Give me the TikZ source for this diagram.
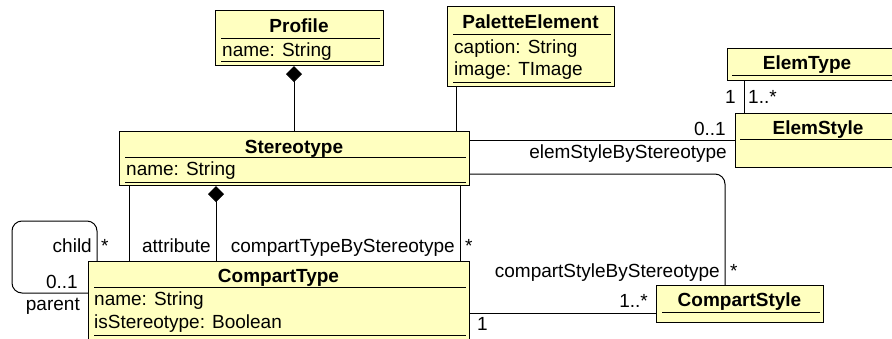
\documentclass[tikz,border=0pt]{standalone}
\usepackage{fontspec}
\setmainfont{Liberation Sans}
\usetikzlibrary{arrows.meta}
\newcommand\umlfs{\fontsize{19}{22}\selectfont}
\definecolor{clsfill}{RGB}{255,255,192}
\tikzset{
  x=1pt,y=-1pt,
  cls/.style={draw, fill=clsfill, line width=1.2pt, inner sep=0pt, anchor=north west},
  sep/.style={line width=1pt},
  conn/.style={line width=1pt},
  txt/.style={inner sep=0pt, font=\umlfs},
  ttl/.style={inner sep=0pt, font=\umlfs\bfseries, anchor=base},
  comp/.style={conn, {Diamond[length=16pt,width=16pt]}-},
}
\begin{document}
\begin{tikzpicture}
\useasboundingbox (0,0) rectangle (892,338);
\clip (0,0) rectangle (892,338);
\fill[white] (0,0) rectangle (892,338);
% boxes
\node[cls, minimum width=168pt, minimum height=55pt] (profile) at (215,10) {};
\node[cls, minimum width=167pt, minimum height=80pt] (palette) at (447,6) {};
\node[cls, minimum width=175pt, minimum height=32pt] (elemtype) at (727,48) {};
\node[cls, minimum width=175pt, minimum height=54pt] (elemstyle) at (735,113) {};
\node[cls, minimum width=350pt, minimum height=54pt] (stereo) at (119,131) {};
\node[cls, minimum width=381pt, minimum height=90pt] (ctype) at (88,261) {};
\node[cls, minimum width=167pt, minimum height=37pt] (cstyle) at (656,285) {};
% separators
\draw[sep] (221,38) -- (380,38) (221,61) -- (380,61);
\draw[sep] (453,34) -- (611,34) (453,82) -- (611,82);
\draw[sep] (732,75) -- (900,75);
\draw[sep] (740,139) -- (900,139);
\draw[sep] (125,157) -- (466,157) (125,182) -- (466,182);
\draw[sep] (94,287) -- (466,287) (94,335) -- (466,335);
\draw[sep] (662,312) -- (820,312);
% texts
\node[ttl] (tprofile) at (299,32) {Profile};
\node[txt, anchor=base west] (aprofile) at (222,56) {name: String};
\node[ttl] (tpalette) at (530.5,28) {PaletteElement};
\node[txt, anchor=base west] (apal1) at (454,53) {caption: String};
\node[txt, anchor=base west] (apal2) at (454,75) {image: TImage};
\node[ttl] (telemtype) at (807,69) {ElemType};
\node[ttl] (telemstyle) at (818,134) {ElemStyle};
\node[ttl] (tstereo) at (294,153) {Stereotype};
\node[txt, anchor=base west] (astereo) at (126,175) {name: String};
\node[ttl] (tctype) at (278.5,282) {CompartType};
\node[txt, anchor=base west] (actype1) at (94,305) {name: String};
\node[txt, anchor=base west] (actype2) at (94,328) {isStereotype: Boolean};
\node[ttl] (tcstyle) at (739.5,306) {CompartStyle};
% connectors
\draw[comp] (profile.south -| 294,0) -- (stereo.north -| 294,0);
\draw[conn] (palette.south -| 456,0) -- (stereo.north -| 456,0);
\draw[conn] (elemtype.south -| 744,0) -- (elemstyle.north -| 744,0);
\draw[conn] (stereo.east |- 0,140) -- (elemstyle.west |- 0,140);
\draw[conn, rounded corners=10pt] (stereo.east |- 0,174) -| (cstyle.north -| 725,0);
\draw[conn] (stereo.south -| 460,0) -- (ctype.north -| 460,0);
\draw[conn] (stereo.south -| 129,0) -- (ctype.north -| 129,0);
\draw[comp] (stereo.south -| 216,0) -- (ctype.north -| 216,0);
\draw[conn, rounded corners=10pt] (ctype.north -| 97,0) |- (12,221) |- (ctype.west |- 0,293);
\draw[conn] (ctype.east |- 0,313) -- (cstyle.west |- 0,313);
% labels
\node[txt, anchor=base east] (l1) at (736,103) {1};
\node[txt, anchor=base west] (l2) at (748,103) {1..*};
\node[txt, anchor=base east] (l3) at (726,135) {0..1};
\node[txt, anchor=base east] (l4) at (727,158) {elemStyleByStereotype};
\node[txt, anchor=base east] (l5) at (720,277) {compartStyleByStereotype};
\node[txt, anchor=base west] (l6) at (730,277) {*};
\node[txt, anchor=base east] (l7) at (455,252) {compartTypeByStereotype};
\node[txt, anchor=base west] (l8) at (465,252) {*};
\node[txt, anchor=base east] (l9) at (211,252) {attribute};
\node[txt, anchor=base east] (l10) at (92,252) {child};
\node[txt, anchor=base west] (l11) at (101,252) {*};
\node[txt, anchor=base east] (l12) at (78,288) {0..1};
\node[txt, anchor=base east] (l13) at (80,310) {parent};
\node[txt, anchor=base east] (l14) at (648,307) {1..*};
\node[txt, anchor=base west] (l15) at (477,330) {1};
\end{tikzpicture}
\end{document}
